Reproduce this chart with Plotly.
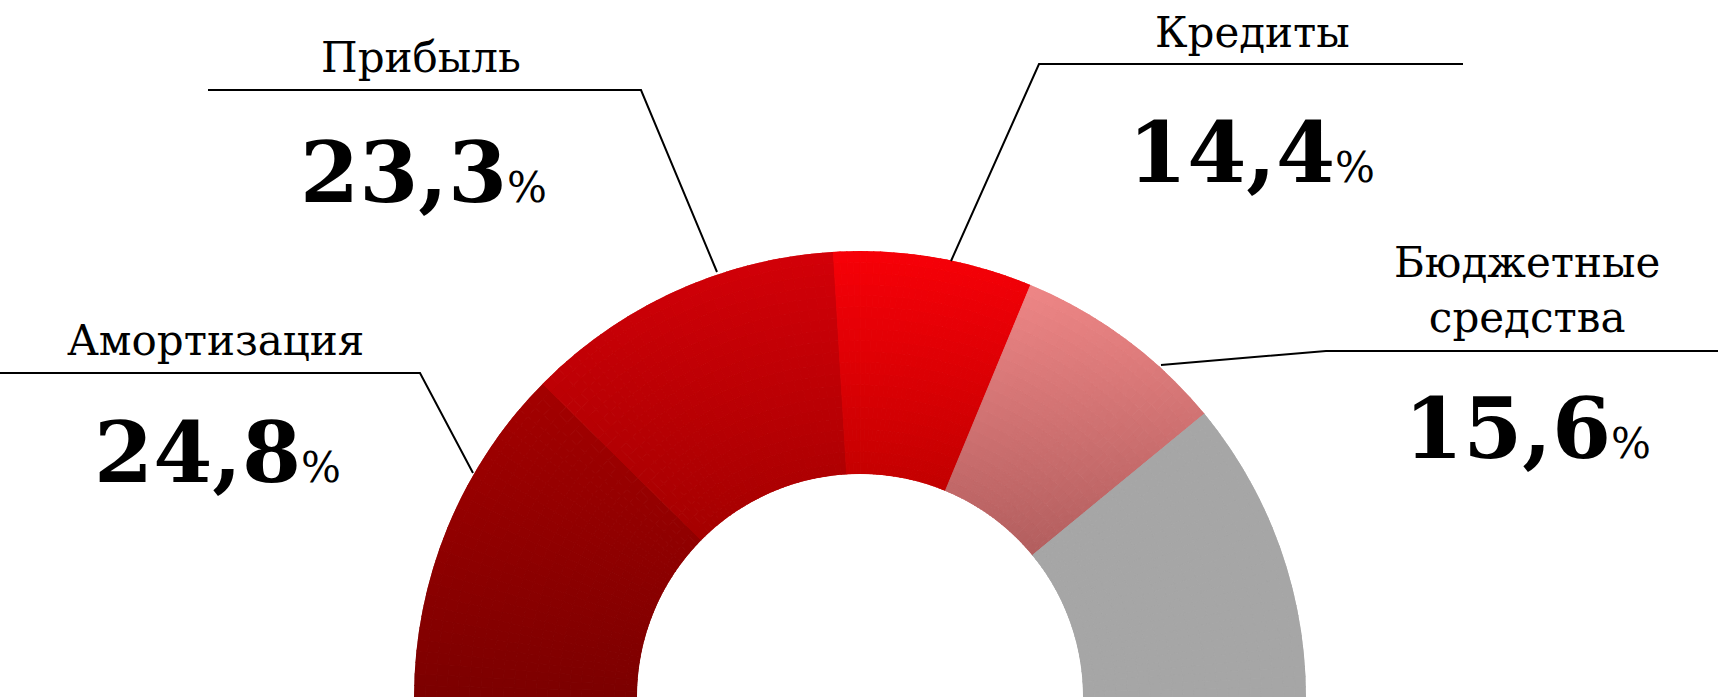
import math
import plotly.graph_objects as go

# ---- data ----
labels = ["Амортизация", "Прибыль", "Кредиты", "Бюджетные<br>средства", "Прочие"]
values = [24.8, 23.3, 14.4, 15.6, 21.9]

# ---- styles ----
top_colors = ["#a40000", "#d30008", "#f70008", "#ee8686", "#a6a6a6"]
bottom_colors = ["#7c0000", "#a40000", "#c20000", "#b25e5e", "#a6a6a6"]
HOLE = 0.5
NA, NR = 30, 20

W, H = 1718, 697


def hex2rgb(h):
    h = h.lstrip("#")
    return [int(h[i:i + 2], 16) for i in (0, 2, 4)]


def mix(c0, c1, t):
    a, b = hex2rgb(c0), hex2rgb(c1)
    return "rgb(%d,%d,%d)" % tuple(round(a[i] + (b[i] - a[i]) * t) for i in range(3))


total = sum(values)
thetas, widths, bases, rs, cols = [], [], [], [], []
start = 0.0
for i, v in enumerate(values):
    span = v / total * 180.0
    a0, a1 = start, start + span
    phis = [180 - a0, 180 - a1]
    lo, hi = min(phis), max(phis)
    ymax = 1.0 if lo <= 90 <= hi else max(math.sin(math.radians(p)) for p in phis)
    ymin = HOLE * min(math.sin(math.radians(p)) for p in phis)
    for ia in range(NA):
        th = a0 + (ia + 0.5) * span / NA
        phi = math.radians(180 - th)
        for ir in range(NR):
            rmid = (ir + 0.5) / NR
            rho = HOLE + (1 - HOLE) * rmid
            y = rho * math.sin(phi)
            t = (ymax - y) / (ymax - ymin) if ymax > ymin else 0
            t = min(max(t, 0), 1)
            thetas.append(th)
            widths.append(span / NA)
            bases.append(ir / NR)
            rs.append(1.0 / NR)
            cols.append(mix(top_colors[i], bottom_colors[i], t))
    start = a1

fig = go.Figure()
fig.add_trace(go.Barpolar(
    theta=thetas, r=rs, base=bases, width=widths,
    marker=dict(color=cols, line=dict(color=cols, width=1)),
    hoverinfo="skip", showlegend=False,
))

R = 446
cx = 860
fig.update_layout(
    width=W, height=H,
    margin=dict(l=0, r=0, t=0, b=0),
    paper_bgcolor="white",
    plot_bgcolor="white",
    showlegend=False,
    polar=dict(
        domain=dict(x=[(cx - R) / W, (cx + R) / W], y=[0, R / H]),
        sector=[0, 180],
        hole=HOLE,
        barmode="overlay",
        bgcolor="rgba(0,0,0,0)",
        radialaxis=dict(visible=False, range=[0, 1], showgrid=False),
        angularaxis=dict(visible=False, rotation=180, direction="clockwise",
                         showgrid=False),
    ),
)

# ---- label layout (pixel: centre x, baseline of last label line, number baseline) ----
label_pos = [(215, 355), (421, 72), (1252, 47), (1527, 332)]
number_pos = [(217, 480), (423, 200), (1251, 180), (1527, 456)]
LABEL_FS = 42
NUM_FS = 85
PCT_FS = 42


def px(x):
    return x / W


def py(y):
    return 1 - y / H


for i in range(4):
    lx, lb = label_pos[i]
    fig.add_annotation(
        x=px(lx), y=py(lb + 0.28 * LABEL_FS), xref="paper", yref="paper",
        text=labels[i], showarrow=False, xanchor="center", yanchor="bottom",
        font=dict(family="DejaVu Serif", size=LABEL_FS, color="black"),
    )
    nx, nb = number_pos[i]
    num = ("%.1f" % values[i]).replace(".", ",")
    fig.add_annotation(
        x=px(nx), y=py(nb + 0.28 * NUM_FS), xref="paper", yref="paper",
        text="<b>%s</b><span style='font-size:%dpx'>%%</span>" % (num, PCT_FS),
        showarrow=False, xanchor="center", yanchor="bottom",
        font=dict(family="DejaVu Serif", size=NUM_FS, color="black"),
    )

# ---- leader lines (pixel coordinates) ----
leaders = [
    [(0, 373), (420, 373), (473, 473)],
    [(208, 90), (641, 90), (717, 272)],
    [(1463, 64), (1039, 64), (951, 261)],
    [(1718, 351), (1326, 351), (1161, 365)],
]
for pts in leaders:
    path = "M " + " L ".join("%f,%f" % (px(x), py(y)) for x, y in pts)
    fig.add_shape(type="path", path=path, xref="paper", yref="paper",
                  line=dict(color="black", width=2))

fig.write_html(
    "out.html",
    config={"displayModeBar": False, "staticPlot": True},
    post_script="document.body.style.margin='0';document.body.style.overflow='hidden';",
)
